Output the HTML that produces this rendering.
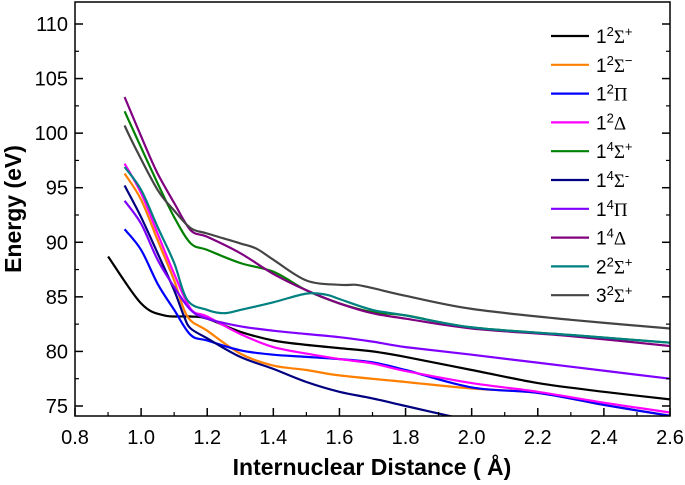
<!DOCTYPE html>
<html><head><meta charset="utf-8"><style>
html,body{margin:0;padding:0;background:#fff;}
svg{display:block;font-family:"Liberation Sans",Arial,sans-serif;}
</style></head><body>
<svg id="chart" width="685" height="485" viewBox="0 0 685 485" xmlns="http://www.w3.org/2000/svg">
<defs><clipPath id="clip"><rect x="75" y="2" width="595" height="414"/></clipPath></defs>
<g id="curves" clip-path="url(#clip)"></g>
<rect x="75" y="2" width="595" height="414" fill="none" stroke="#000" stroke-width="1.5"/>
<g id="axes"></g>
<g id="legend"></g>
<text x="372" y="475" text-anchor="middle" font-size="23" font-weight="bold">Internuclear Distance ( Å)</text>
<text transform="translate(21,209) rotate(-90)" text-anchor="middle" font-size="23" font-weight="bold">Energy (eV)</text>
</svg>
<script>
const xTicks=[0.8,1.0,1.2,1.4,1.6,1.8,2.0,2.2,2.4,2.6];
const yTicks=[75,80,85,90,95,100,105,110];
const seriesNames=["1²Σ⁺","1²Σ⁻","1²Π","1²Δ","1⁴Σ⁺","1⁴Σ⁻","1⁴Π","1⁴Δ","2²Σ⁺","3²Σ⁺"];
const seriesColors=["#000000","#ff8000","#0000ff","#ff00ff","#008000","#000080","#8000ff","#800080","#008080","#444444"];
const xs0=[0.9,1.0,1.07,1.15,1.2,1.3,1.4,1.5,1.6,1.7,1.8,2.0,2.2,2.4,2.6];
const ys0=[88.7,84.4,83.3,83.2,83.0,81.8,81.0,80.6,80.3,80.0,79.5,78.3,77.1,76.3,75.6];
const xs1=[0.95,1.0,1.05,1.1,1.14,1.2,1.3,1.4,1.5,1.6,1.8,2.0,2.2,2.4,2.6];
const ys1=[96.3,93.9,90.2,86.5,83.2,81.9,79.8,78.7,78.3,77.8,77.2,76.6,76.2,75.1,74.1];
const xs2=[0.95,1.0,1.05,1.1,1.15,1.2,1.3,1.4,1.5,1.6,1.7,1.8,2.0,2.2,2.4,2.6];
const ys2=[91.2,89.3,86.2,83.8,81.5,81.0,80.1,79.7,79.5,79.3,79.0,78.3,76.7,76.2,75.1,74.1];
const xs3=[0.95,1.0,1.05,1.1,1.15,1.2,1.3,1.4,1.5,1.6,1.7,1.8,2.0,2.2,2.4,2.6];
const ys3=[97.2,94.5,90.8,87.1,83.9,83.2,81.6,80.4,79.8,79.3,78.9,78.2,77.1,76.3,75.3,74.4];
const xs4=[0.95,0.98,1.05,1.1,1.15,1.2,1.3,1.4,1.5,1.6,1.7,1.8,2.0,2.3,2.6];
const ys4=[102.0,100.0,95.4,92.3,89.9,89.3,88.1,87.3,85.6,84.4,83.6,83.3,82.2,81.5,80.8];
const xs5=[0.95,1.0,1.05,1.1,1.13,1.15,1.2,1.3,1.4,1.5,1.6,1.7,1.8,1.96];
const ys5=[95.2,92.3,89.0,85.6,83.2,82.1,81.2,79.5,78.4,77.2,76.3,75.7,75.0,73.9];
const xs6=[0.95,1.0,1.05,1.1,1.15,1.2,1.3,1.4,1.5,1.6,1.7,1.8,2.0,2.3,2.6];
const ys6=[93.8,91.7,88.4,85.9,83.8,83.0,82.3,81.9,81.6,81.3,80.9,80.4,79.7,78.6,77.5];
const xs7=[0.95,1.01,1.05,1.1,1.15,1.2,1.3,1.4,1.5,1.6,1.7,1.8,2.0,2.3,2.6];
const ys7=[103.3,99.0,96.3,93.6,91.1,90.5,89.0,87.1,85.6,84.4,83.5,83.0,82.1,81.4,80.5];
const xs8=[0.95,1.0,1.05,1.1,1.14,1.2,1.25,1.3,1.4,1.5,1.56,1.6,1.7,1.8,2.0,2.3,2.6];
const ys8=[96.9,94.8,91.4,88.1,84.7,83.8,83.5,83.8,84.5,85.3,85.2,84.8,83.8,83.3,82.2,81.5,80.8];
const xs9=[0.95,0.98,1.05,1.1,1.15,1.2,1.3,1.35,1.4,1.5,1.6,1.65,1.7,1.8,2.0,2.3,2.6];
const ys9=[100.7,98.8,94.8,92.9,91.3,90.8,89.9,89.4,88.4,86.5,86.1,86.1,85.8,85.1,83.9,82.9,82.1];
const allX=[xs0,xs1,xs2,xs3,xs4,xs5,xs6,xs7,xs8,xs9];
const allY=[ys0,ys1,ys2,ys3,ys4,ys5,ys6,ys7,ys8,ys9];

const NS="http://www.w3.org/2000/svg";
function sx(v){return 75+(v-0.8)/1.8*595;}
function sy(v){return 24+(110-v)*10.914;}
function mk(tag,attrs,parent){const e=document.createElementNS(NS,tag);for(const k in attrs)e.setAttribute(k,attrs[k]);parent.appendChild(e);return e;}
function smooth(pts){
  let d="M"+pts[0][0].toFixed(1)+","+pts[0][1].toFixed(1);
  for(let i=0;i<pts.length-1;i++){
    const p0=pts[Math.max(i-1,0)],p1=pts[i],p2=pts[i+1],p3=pts[Math.min(i+2,pts.length-1)];
    const c1x=p1[0]+(p2[0]-p0[0])/6,c1y=p1[1]+(p2[1]-p0[1])/6;
    const c2x=p2[0]-(p3[0]-p1[0])/6,c2y=p2[1]-(p3[1]-p1[1])/6;
    d+=" C"+c1x.toFixed(1)+","+c1y.toFixed(1)+" "+c2x.toFixed(1)+","+c2y.toFixed(1)+" "+p2[0].toFixed(1)+","+p2[1].toFixed(1);
  }
  return d;
}
const axes=document.getElementById('axes');
xTicks.forEach((t,i)=>{
  const x=sx(t);
  const tk=mk('line',{x1:x,y1:416,x2:x,y2:408,stroke:'#000','stroke-width':1.5},axes);
  
  
  if(i<xTicks.length-1){
    const mx=sx(t+0.1);
    const m=mk('line',{x1:mx,y1:416,x2:mx,y2:412,stroke:'#000','stroke-width':1.2},axes);
    
    
  }
  const lb=mk('text',{x:x,y:444,'text-anchor':'middle','font-size':20},axes);
  lb.textContent=t.toFixed(1);
  
  
});
yTicks.forEach((t,i)=>{
  const y=sy(t);
  [75,670].forEach(x0=>{
    const tk=mk('line',{x1:x0,y1:y,x2:x0===75?83:662,y2:y,stroke:'#000','stroke-width':1.5},axes);
    
    
    const my=sy(t+2.5);
    if(my>2){
      const m=mk('line',{x1:x0,y1:my,x2:x0===75?79:666,y2:my,stroke:'#000','stroke-width':1.2},axes);
      
      
    }
  });
  const lb=mk('text',{x:68,y:y+7,'text-anchor':'end','font-size':20},axes);
  lb.textContent=String(t);
  
  
});
const cg=document.getElementById('curves');
allX.forEach((xs,si)=>{
  const pts=xs.map((x,j)=>[sx(x),sy(allY[si][j])]);
  const p=mk('path',{d:smooth(pts),fill:'none',stroke:seriesColors[si],'stroke-width':2.2},cg);
  
  
});
const lg=document.getElementById('legend');
const labelParts=[["1","2","Σ","+"],["1","2","Σ","−"],["1","2","Π",""],["1","2","Δ",""],["1","4","Σ","+"],["1","4","Σ","-"],["1","4","Π",""],["1","4","Δ",""],["2","2","Σ","+"],["3","2","Σ","+"]];
seriesNames.forEach((n,i)=>{
  const y=36+i*28.8;
  const ln=mk('line',{x1:551,y1:y,x2:589,y2:y,stroke:seriesColors[i],'stroke-width':2.2},lg);
  
  
  const t=mk('text',{x:596,y:y+7,'font-size':19},lg);
  
  
  const lp=labelParts[i];
  t.appendChild(document.createTextNode(lp[0]));
  const s1=mk('tspan',{dy:-7,'font-size':13},t);s1.textContent=lp[1];
  const s2=mk('tspan',{dy:7,'font-family':'"Liberation Serif",serif'},t);s2.textContent=lp[2];
  if(lp[3]){const s3=mk('tspan',{dy:-7,'font-size':13},t);s3.textContent=lp[3];}
});
</script>
</body></html>
